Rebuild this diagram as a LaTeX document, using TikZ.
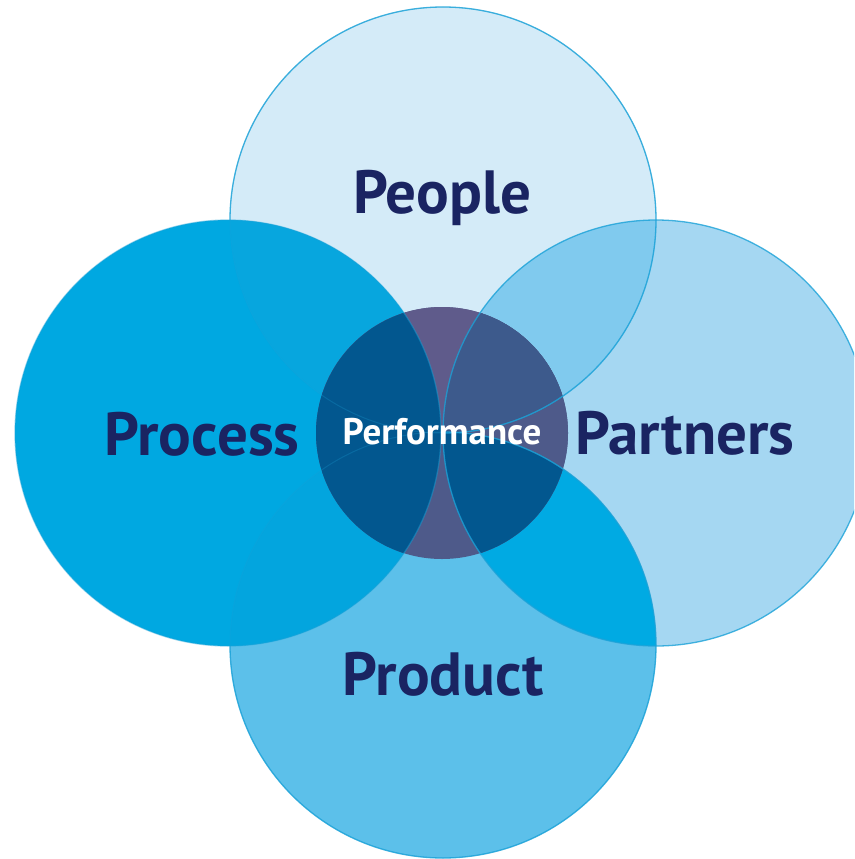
\documentclass[tikz,border=0pt]{standalone}
\usepackage{fontspec}
\setmainfont{PT Sans}
\definecolor{cPeopleF}{HTML}{D4EBF8}
\definecolor{cProcessF}{HTML}{00A8E1}
\definecolor{cPartnersF}{HTML}{A5D7F2}
\definecolor{cProductF}{HTML}{5CC0EA}
\definecolor{cPeoProc}{HTML}{07A6DE}
\definecolor{cPeoPart}{HTML}{80CAEE}
\definecolor{cProcProd}{HTML}{03A5DE}
\definecolor{cPartProd}{HTML}{00AAE3}
\definecolor{cEdge}{HTML}{1BA2D8}
\definecolor{cCtrBase}{HTML}{4E5A8A}
\definecolor{cCtrTop}{HTML}{5F5B8B}
\definecolor{cCtrPartPeo}{HTML}{3D5A8C}
\definecolor{cCtrDark}{HTML}{02578F}
\definecolor{cText}{HTML}{1A2462}
\begin{document}
\begin{tikzpicture}[x=1pt,y=-1pt,
  biglabel/.style={font=\fontsize{61}{63}\selectfont\bfseries, text=cText, inner sep=0pt, anchor=base},
  ctrlabel/.style={font=\fontsize{37}{39}\selectfont\bfseries, text=white, inner sep=0pt, anchor=base},
  ring/.style={draw=cEdge, line width=1.3pt, draw opacity=0.8},
  faintring/.style={draw=cEdge, line width=1pt, draw opacity=0.25}]
\def\R{213pt}
\def\r{126pt}
\useasboundingbox (0,0) rectangle (854,859);
\clip (0,0) rectangle (854,859);
\fill[white] (0,0) rectangle (854,859);
\coordinate (peo) at (443,220);
\coordinate (proc) at (228,433);
\coordinate (part) at (656,433);
\coordinate (prod) at (443,645);
\coordinate (ctr) at (442,433);
% base fills
\fill[cPeopleF] (peo) circle[radius=\R];
\fill[cPartnersF] (part) circle[radius=\R];
\fill[cProductF] (prod) circle[radius=\R];
\fill[cProcessF] (proc) circle[radius=\R];
% pairwise overlaps
\begin{scope}\clip (peo) circle[radius=\R]; \fill[cPeoProc] (proc) circle[radius=\R];\end{scope}
\begin{scope}\clip (peo) circle[radius=\R]; \fill[cPeoPart] (part) circle[radius=\R];\end{scope}
\begin{scope}\clip (prod) circle[radius=\R]; \fill[cProcProd] (proc) circle[radius=\R];\end{scope}
\begin{scope}\clip (prod) circle[radius=\R]; \fill[cPartProd] (part) circle[radius=\R];\end{scope}
% centre circle
\fill[cCtrBase] (ctr) circle[radius=\r];
\begin{scope}\clip (ctr) circle[radius=\r]; \fill[cCtrTop] (peo) circle[radius=\R];\end{scope}
\begin{scope}\clip (ctr) circle[radius=\r]; \clip (part) circle[radius=\R]; \fill[cCtrBase] (part) circle[radius=\R];\end{scope}
\begin{scope}\clip (ctr) circle[radius=\r]; \clip (part) circle[radius=\R]; \fill[cCtrPartPeo] (peo) circle[radius=\R];\end{scope}
\begin{scope}\clip (ctr) circle[radius=\r]; \clip (part) circle[radius=\R]; \fill[cCtrDark] (prod) circle[radius=\R];\end{scope}
\begin{scope}\clip (ctr) circle[radius=\r]; \fill[cCtrDark] (proc) circle[radius=\R];\end{scope}
% outlines: faint everywhere
\draw[faintring] (peo) circle[radius=\R];
\draw[faintring] (prod) circle[radius=\R];
% strong outside the Process circle
\begin{scope}[even odd rule]
  \clip (0,0) rectangle (854,859) (proc) circle[radius=\R];
  \draw[ring] (peo) circle[radius=\R];
  \draw[ring] (prod) circle[radius=\R];
\end{scope}
\draw[ring] (part) circle[radius=\R];
\draw[ring, draw opacity=0.45] (proc) circle[radius=\R];
% labels
\node[biglabel] (tPeople) at (442,213) {People};
\node[biglabel] (tProcess) at (202,455) {Process};
\node[biglabel] (tPartners) at (685,454) {Partners};
\node[biglabel] (tProduct) at (443,695) {Product};
\node[ctrlabel] (tPerf) at (442,444) {Performance};
\end{tikzpicture}
\end{document}
